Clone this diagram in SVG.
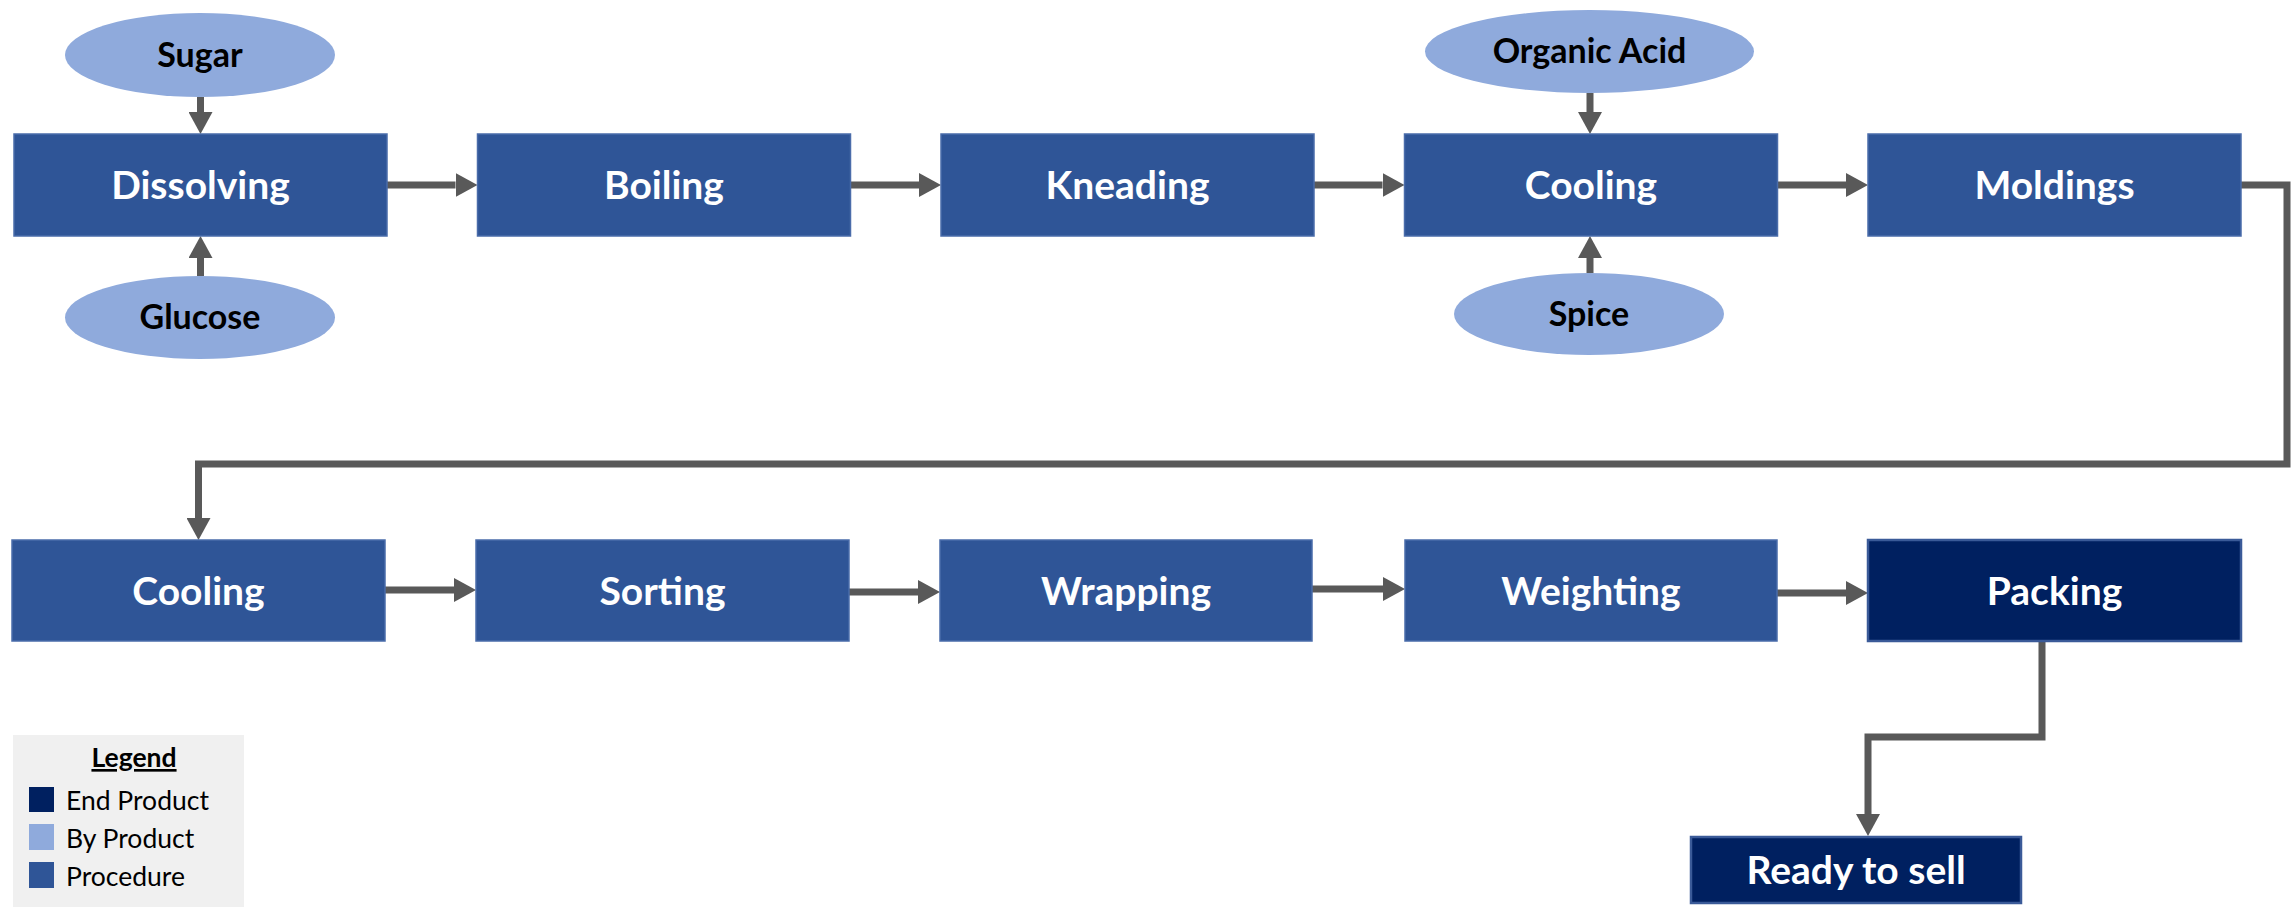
<svg xmlns="http://www.w3.org/2000/svg" width="2292" height="908" viewBox="0 0 2292 908">
<style>
.proc{fill:#2F5597;stroke:#4A6CAA;stroke-width:1.5}
.end{fill:#002060;stroke:#3A5A98;stroke-width:2.5}
.by{fill:#8FAADC}
.bt{font-family:Lato,"Open Sans",sans-serif;font-weight:bold;font-size:39px;fill:#fff;text-anchor:middle}
.et{font-family:Lato,"Open Sans",sans-serif;font-weight:bold;font-size:34px;fill:#000;text-anchor:middle}
.lt{font-family:Lato,"Open Sans",sans-serif;font-size:26.5px;fill:#000}
.conn{fill:none;stroke:#595959;stroke-width:7;stroke-linejoin:miter}
</style>
<defs>
<marker id="ah" viewBox="0 0 22 24" refX="0" refY="12" markerWidth="22" markerHeight="24" markerUnits="userSpaceOnUse" orient="auto">
<path d="M0,0 L22,12 L0,24 z" fill="#595959"/>
</marker>
</defs>
<g id="connectors">
<path class="conn" marker-end="url(#ah)" d="M200.5,97 V112"/>
<path class="conn" marker-end="url(#ah)" d="M200.5,276 V258"/>
<path class="conn" marker-end="url(#ah)" d="M1590,93 V112"/>
<path class="conn" marker-end="url(#ah)" d="M1590,273 V258"/>
<path class="conn" marker-end="url(#ah)" d="M387,185 H455.5"/>
<path class="conn" marker-end="url(#ah)" d="M850.5,185 H919"/>
<path class="conn" marker-end="url(#ah)" d="M1314,185 H1382.5"/>
<path class="conn" marker-end="url(#ah)" d="M1777.5,185 H1846"/>
<path class="conn" marker-end="url(#ah)" d="M2241,185 H2287 V464 H198.5 V518"/>
<path class="conn" marker-end="url(#ah)" d="M385,590 H454"/>
<path class="conn" marker-end="url(#ah)" d="M849,592 H918"/>
<path class="conn" marker-end="url(#ah)" d="M1312,589 H1383"/>
<path class="conn" marker-end="url(#ah)" d="M1777,593 H1846"/>
<path class="conn" marker-end="url(#ah)" d="M2042,641 V737 H1868 V814"/>
</g>
<g id="sugar"><ellipse class="by" cx="200" cy="55" rx="135" ry="42"/><text class="et" x="200" y="67">Sugar</text></g>
<g id="glucose"><ellipse class="by" cx="200" cy="317.5" rx="135" ry="41.5"/><text class="et" x="200" y="329">Glucose</text></g>
<g id="organic-acid"><ellipse class="by" cx="1589.5" cy="51.5" rx="164.5" ry="41.5"/><text class="et" x="1589.5" y="63">Organic Acid</text></g>
<g id="spice"><ellipse class="by" cx="1589" cy="314" rx="135" ry="41"/><text class="et" x="1589" y="326">Spice</text></g>
<g id="dissolving"><rect class="proc" x="14" y="134" width="373" height="102"/><text class="bt" x="200.5" y="199">Dissolving</text></g>
<g id="boiling"><rect class="proc" x="477.5" y="134" width="373" height="102"/><text class="bt" x="664" y="199">Boiling</text></g>
<g id="kneading"><rect class="proc" x="941" y="134" width="373" height="102"/><text class="bt" x="1127.5" y="199">Kneading</text></g>
<g id="cooling1"><rect class="proc" x="1404.5" y="134" width="373" height="102"/><text class="bt" x="1591" y="199">Cooling</text></g>
<g id="moldings"><rect class="proc" x="1868" y="134" width="373" height="102"/><text class="bt" x="2054.5" y="199">Moldings</text></g>
<g id="cooling2"><rect class="proc" x="12" y="540" width="373" height="101"/><text class="bt" x="198.5" y="605">Cooling</text></g>
<g id="sorting"><rect class="proc" x="476" y="540" width="373" height="101"/><text class="bt" x="662.5" y="605">Sorting</text></g>
<g id="wrapping"><rect class="proc" x="940" y="540" width="372" height="101"/><text class="bt" x="1126" y="605">Wrapping</text></g>
<g id="weighting"><rect class="proc" x="1405" y="540" width="372" height="101"/><text class="bt" x="1591" y="605">Weighting</text></g>
<g id="packing"><rect class="end" x="1868" y="540" width="373" height="101"/><text class="bt" x="2054.5" y="605">Packing</text></g>
<g id="ready-to-sell"><rect class="end" x="1691" y="837" width="330" height="66"/><text class="bt" x="1856" y="884">Ready to sell</text></g>
<g id="legend">
<rect x="13" y="735" width="231" height="172" fill="#F0F0F0"/>
<text class="lt" x="134" y="767" text-anchor="middle" font-weight="bold" text-decoration="underline">Legend</text>
<rect x="29" y="787" width="25" height="25" fill="#002060"/>
<text class="lt" x="66" y="810">End Product</text>
<rect x="29" y="824" width="25" height="26" fill="#8FAADC"/>
<text class="lt" x="66" y="848">By Product</text>
<rect x="29" y="862" width="25" height="26" fill="#2F5597"/>
<text class="lt" x="66" y="886">Procedure</text>
</g>
</svg>
